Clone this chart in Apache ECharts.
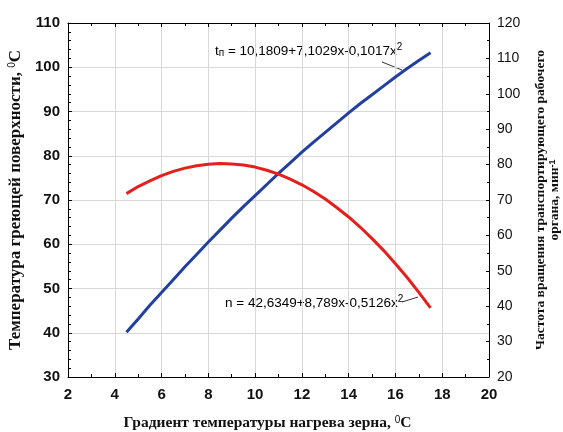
<!DOCTYPE html>
<html>
<head>
<meta charset="utf-8">
<script src="https://cdn.jsdelivr.net/npm/echarts@6/dist/echarts.min.js"></script>
<style>
  html, body { margin: 0; padding: 0; background: #fff; }
  #chart { width: 563px; height: 432px; }
</style>
</head>
<body>
<div id="chart"></div>
<script>
// градиент температуры, °C
var gradX = [4.5, 5, 5.5, 6, 6.5, 7, 7.5, 8, 8.5, 9, 9.5, 10, 10.5, 11, 11.5, 12,
             12.5, 13, 13.5, 14, 14.5, 15, 15.5, 16, 16.5, 17, 17.5];
// температура греющей поверхности (левая ось)
var tempVals = [40.1, 43.1, 46.2, 49.1, 52.0, 54.9, 57.7, 60.5, 63.2, 65.9, 68.5, 71.0, 73.5, 76.0, 78.4, 80.8,
                83.1, 85.3, 87.5, 89.7, 91.8, 93.8, 95.8, 97.8, 99.7, 101.5, 103.3];
// частота вращения (правая ось)
var freqVals = [71.8, 73.8, 75.4, 76.9, 78.1, 79.0, 79.7, 80.1, 80.3, 80.2, 79.9, 79.3, 78.4, 77.3, 75.9, 74.3,
                72.4, 70.3, 67.8, 65.2, 62.3, 59.1, 55.7, 52.0, 48.1, 43.9, 39.5];

var xTicks = { min: 2, max: 20, step: 2 };
var leftTicks = { min: 30, max: 110, step: 10 };
var rightTicks = { min: 20, max: 120, step: 10 };

function pairs(xs, ys) {
    var out = [];
    for (var i = 0; i < xs.length; i++) out.push([xs[i], ys[i]]);
    return out;
}

var chart = echarts.init(document.getElementById('chart'));

var supStyle = { fontFamily: 'Liberation Sans', fontWeight: 'normal', fontSize: 10, verticalAlign: 'top', color: '#111' };

// стиль подписей уравнений
var eqRich = {
    a: { fontFamily: 'Liberation Sans', fontSize: 13.5, color: '#111', verticalAlign: 'bottom', lineHeight: 16 },
    sub: { fontFamily: 'Liberation Sans', fontSize: 10, color: '#111', verticalAlign: 'bottom', lineHeight: 10 },
    sup: { fontFamily: 'Liberation Sans', fontSize: 10, color: '#111', verticalAlign: 'top', lineHeight: 10 }
};

var option = {
    animation: false,
    backgroundColor: '#fff',
    grid: { left: 68, right: 74, top: 23, bottom: 55, containLabel: false, outerBoundsMode: 'none' },
    xAxis: [{
        type: 'value',
        min: xTicks.min, max: xTicks.max, interval: xTicks.step,
        axisLine: { lineStyle: { color: '#000', width: 1 } },
        axisTick: { inside: true, length: 4, lineStyle: { color: '#000' } },
        minorTick: { show: true, splitNumber: 2, length: 3, lineStyle: { color: '#000' } },
        splitLine: { show: true, lineStyle: { color: '#d8d8d8', width: 1 } },
        axisLabel: { margin: 10, fontFamily: 'Liberation Sans', fontWeight: 'bold', fontSize: 15, color: '#111' },
        name: 'Градиент температуры нагрева зерна, {sup|0}C',
        nameLocation: 'middle',
        nameGap: 38,
        nameTextStyle: {
            fontFamily: 'Liberation Serif', fontWeight: 'bold', fontSize: 15.5, color: '#111',
            padding: [0, 22, 0, 0],
            rich: { sup: supStyle }
        }
    }, {
        type: 'value',
        position: 'top',
        min: xTicks.min, max: xTicks.max, interval: xTicks.step,
        axisLine: { show: true, lineStyle: { color: '#000' } },
        axisTick: { show: true, inside: true, length: 4, lineStyle: { color: '#000' } },
        minorTick: { show: true, splitNumber: 2, length: 3, lineStyle: { color: '#000' } },
        splitLine: { show: false },
        axisLabel: { show: false }
    }],
    yAxis: [{
        type: 'value',
        position: 'left',
        min: leftTicks.min, max: leftTicks.max, interval: leftTicks.step,
        axisLine: { show: true, lineStyle: { color: '#000' } },
        axisTick: { show: true, inside: true, length: 4, lineStyle: { color: '#000' } },
        minorTick: { show: true, splitNumber: 5, length: 3, lineStyle: { color: '#000' } },
        splitLine: { show: true, lineStyle: { color: '#d8d8d8', width: 1 } },
        axisLabel: { margin: 8, fontFamily: 'Liberation Sans', fontWeight: 'bold', fontSize: 15, color: '#111' },
        name: 'Температура греющей поверхности, {sup|0}C',
        nameLocation: 'middle',
        nameRotate: 90,
        nameGap: 40,
        nameTextStyle: {
            fontFamily: 'Liberation Serif', fontWeight: 'bold', fontSize: 17, color: '#111',
            rich: { sup: supStyle }
        }
    }, {
        type: 'value',
        position: 'right',
        min: rightTicks.min, max: rightTicks.max, interval: rightTicks.step,
        axisLine: { show: true, lineStyle: { color: '#000' } },
        axisTick: { show: true, inside: true, length: 3, lineStyle: { color: '#000' } },
        minorTick: { show: true, splitNumber: 2, length: 2, lineStyle: { color: '#000' } },
        splitLine: { show: false },
        axisLabel: { margin: 8, fontFamily: 'Liberation Sans', fontSize: 14, color: '#111' },
        name: 'Частота вращения транспортирующего рабочего\nоргана, мин{sup|-1}',
        nameLocation: 'middle',
        nameRotate: 90,
        nameGap: 45,
        nameTextStyle: {
            fontFamily: 'Liberation Serif', fontWeight: 'bold', fontSize: 13.5, color: '#111',
            lineHeight: 14,
            rich: { sup: { fontFamily: 'Liberation Sans', fontSize: 9, verticalAlign: 'top', color: '#111' } }
        }
    }],
    series: [{
        name: 'tп',
        type: 'line',
        xAxisIndex: 0,
        yAxisIndex: 0,
        showSymbol: false,
        lineStyle: { color: '#2340a0', width: 3 },
        data: pairs(gradX, tempVals)
    }, {
        name: 'n',
        type: 'line',
        xAxisIndex: 0,
        yAxisIndex: 1,
        showSymbol: false,
        lineStyle: { color: '#e3201c', width: 3 },
        data: pairs(gradX, freqVals)
    }],
    graphic: [{
        type: 'text',
        left: 215, top: 42,
        style: {
            text: '{a|t}{sub|п}{a| = 10,1809+7,1029x-0,1017x}{sup|2}',
            rich: eqRich
        }
    }, {
        type: 'line',
        shape: { x1: 382, y1: 62, x2: 402, y2: 70 },
        style: { stroke: '#333', lineWidth: 1 }
    }, {
        type: 'text',
        left: 225, top: 294,
        style: {
            text: '{a|n = 42,6349+8,789x-0,5126x}{sup|2}',
            rich: eqRich
        }
    }, {
        type: 'line',
        shape: { x1: 402, y1: 302, x2: 418, y2: 297 },
        style: { stroke: '#333', lineWidth: 1 }
    }]
};

chart.setOption(option);
</script>
</body>
</html>
